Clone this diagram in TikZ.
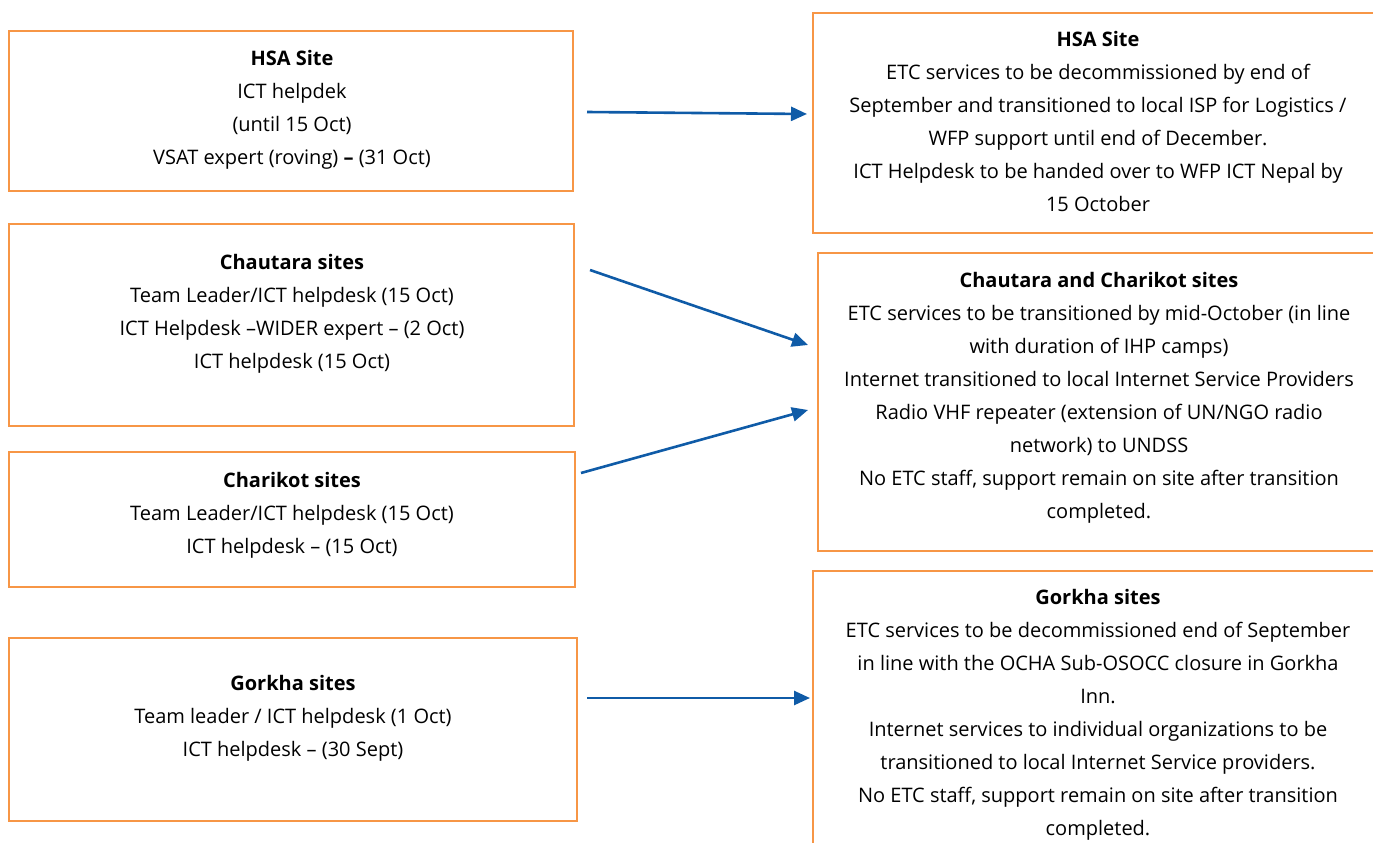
\documentclass[tikz,border=0pt]{standalone}
\usepackage{fontspec}
\setmainfont{Open Sans}
\usetikzlibrary{arrows.meta,calc}
\definecolor{boxorange}{HTML}{F79646}
\definecolor{arrowblue}{HTML}{0F5BA7}
\tikzset{
  box/.style={draw=boxorange, line width=2pt, inner sep=0pt, outer sep=0pt, rectangle},
  txt/.style={inner sep=0pt, outer sep=0pt, align=center, anchor=north,
    font=\fontsize{20}{33}\selectfont},
  conn/.style={draw=arrowblue, line width=2.6pt, -{Triangle[length=16pt,width=14pt]}}
}
\begin{document}
\begin{tikzpicture}[x=1pt,y=-1pt]
\useasboundingbox (0,0) rectangle (1373,843);
\clip (0,0) rectangle (1373,843);
% left boxes
\node[box, minimum width=564pt, minimum height=160pt] (L1) at (291,111) {};
\node[box, minimum width=565pt, minimum height=202pt] (L2) at (291.5,325) {};
\node[box, minimum width=566pt, minimum height=135pt] (L3) at (292,519.5) {};
\node[box, minimum width=568pt, minimum height=183pt] (L4) at (293,729.5) {};
% right boxes
\node[box, minimum width=563pt, minimum height=220pt] (R1) at (1094.5,123) {};
\node[box, minimum width=558pt, minimum height=298pt] (R2) at (1097,402) {};
\node[box, minimum width=563pt, minimum height=289pt] (R3) at (1094.5,715.5) {};
% texts
\node[txt] (L1t) at (292,50) {\textbf{HSA Site}\\ICT helpdek\\(until 15 Oct)\\VSAT expert (roving) \textbf{–} (31 Oct)};
\node[txt] (L2t) at (292,254) {\textbf{Chautara sites}\\Team Leader/ICT helpdesk (15 Oct)\\ICT Helpdesk –WIDER expert – (2 Oct)\\ICT helpdesk (15 Oct)};
\node[txt] (L3t) at (292,472) {\textbf{Charikot sites}\\Team Leader/ICT helpdesk (15 Oct)\\ICT helpdesk – (15 Oct)};
\node[txt] (L4t) at (293,675) {\textbf{Gorkha sites}\\Team leader / ICT helpdesk (1 Oct)\\ICT helpdesk – (30 Sept)};
\node[txt] (R1t) at (1098,31) {\textbf{HSA Site}\\ETC services to be decommissioned by end of\\September and transitioned to local ISP for Logistics /\\WFP support until end of December.\\ICT Helpdesk to be handed over to WFP ICT Nepal by\\15 October};
\node[txt] (R2t) at (1099,272) {\textbf{Chautara and Charikot sites}\\ETC services to be transitioned by mid-October (in line\\with duration of IHP camps)\\Internet transitioned to local Internet Service Providers\\Radio VHF repeater (extension of UN/NGO radio\\network) to UNDSS\\No ETC staff, support remain on site after transition\\completed.};
\node[txt] (R3t) at (1098,589) {\textbf{Gorkha sites}\\ETC services to be decommissioned end of September\\in line with the OCHA Sub-OSOCC closure in Gorkha\\Inn.\\Internet services to individual organizations to be\\transitioned to local Internet Service providers.\\No ETC staff, support remain on site after transition\\completed.};
% connectors
\draw[conn] ($(L1.east)+(14,1)$) -- ($(R1.west)+(-6,-9)$);
\draw[conn] ($(L2.east)+(16,-55)$) -- ($(R2.west)+(-10,-57)$);
\draw[conn] ($(L3.east)+(6,-46.5)$) -- ($(R2.west)+(-10,8)$);
\draw[conn] ($(L4.east)+(10,-31.5)$) -- ($(R3.west)+(-3,-17.5)$);
\end{tikzpicture}
\end{document}
